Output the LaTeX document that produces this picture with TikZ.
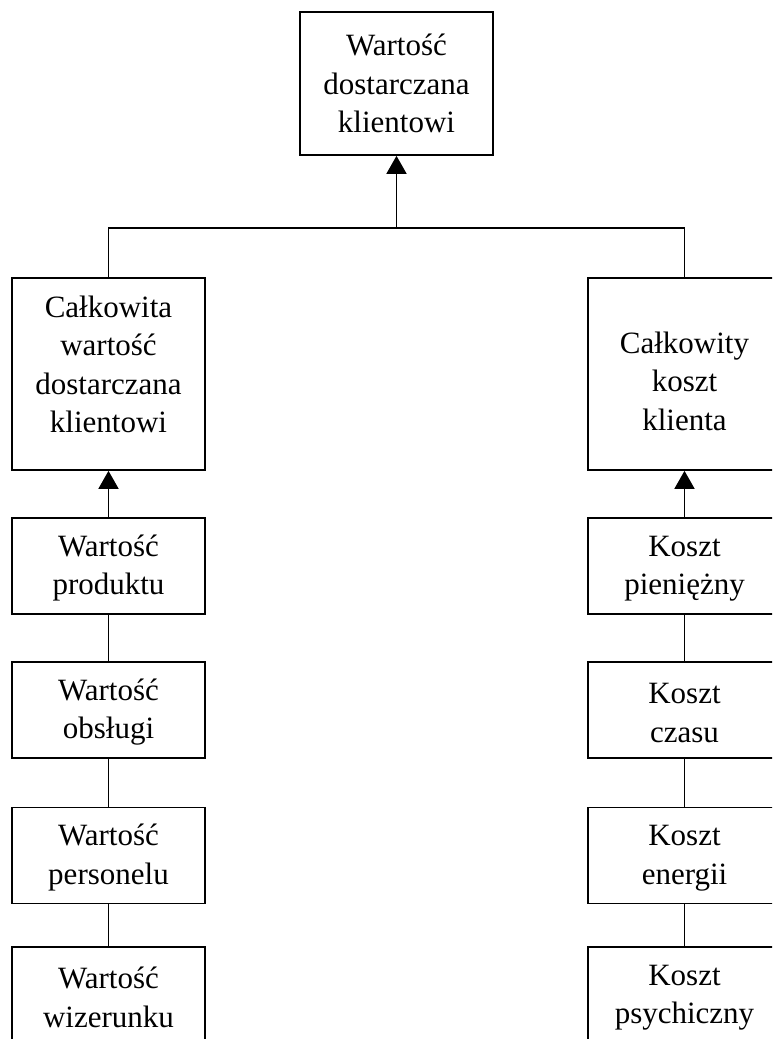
\documentclass[tikz,border=0pt]{standalone}
\usepackage{fontspec}
\setmainfont{Liberation Serif}
\usetikzlibrary{arrows.meta}
% invisible struts that move a box's text down (tall first line) or up (deep last line)
\newcommand\lowertext[1]{\rule{0pt}{#1}}
\newcommand\raisetext[1]{\rule[-#1]{0pt}{#1}}
\tikzset{
  box/.style={draw, line width=1.7pt, minimum width=193pt, inner sep=0pt,
    align=center, font=\fontsize{31}{38.5}\selectfont},
  link/.style={line width=1.7pt},
  arr/.style={line width=1.7pt, -{Triangle[width=20pt,length=18pt]}}
}
\begin{document}
\begin{tikzpicture}[x=1pt,y=-1pt]
\useasboundingbox (0,0) rectangle (772,1039);
\clip (0,0) rectangle (772,1039);

% top box
\node[box, minimum height=143pt] (T) at (396.5,83.5) {Wartość\\dostarczana\\klientowi};

% the two main branches
\node[box, minimum height=192pt] (L) at (108.5,374) {Całkowita\\wartość\\dostarczana\\klientowi\raisetext{20pt}};
\node[box, minimum height=192pt] (R) at (684.5,374) {\lowertext{36pt}Całkowity\\koszt\\klienta};

% value components
\node[box, minimum height=96pt] (L1) at (108.5,566) {\lowertext{26pt}Wartość\\produktu};
\node[box, minimum height=96pt] (L2) at (108.5,710) {\lowertext{26pt}Wartość\\obsługi};
\node[box, minimum height=96pt] (L3) at (108.5,855.5) {\lowertext{26pt}Wartość\\personelu};
\node[box, minimum height=96pt] (L4) at (108.5,995) {\lowertext{26pt}Wartość\\wizerunku};

% cost components
\node[box, minimum height=96pt] (R1) at (684.5,566) {\lowertext{26pt}Koszt\\pieniężny};
\node[box, minimum height=96pt] (R2) at (684.5,710) {\lowertext{26pt}Koszt\\czasu};
\node[box, minimum height=96pt] (R3) at (684.5,855.5) {\lowertext{26pt}Koszt\\energii};
\node[box, minimum height=96pt] (R4) at (684.5,995) {\lowertext{26pt}Koszt\\psychiczny};

% junction under the top box
\coordinate (J) at (396.5,228);
\draw[link] (L.north) |- (J);
\draw[link] (R.north) |- (J);
\draw[arr] (J) -- (T.south);

% arrows into the branch boxes
\draw[arr] (L1.north) -- (L.south);
\draw[arr] (R1.north) -- (R.south);

% chains of components
\draw[link] (L1.south) -- (L2.north);
\draw[link] (L2.south) -- (L3.north);
\draw[link] (L3.south) -- (L4.north);
\draw[link] (R1.south) -- (R2.north);
\draw[link] (R2.south) -- (R3.north);
\draw[link] (R3.south) -- (R4.north);
\end{tikzpicture}
\end{document}
